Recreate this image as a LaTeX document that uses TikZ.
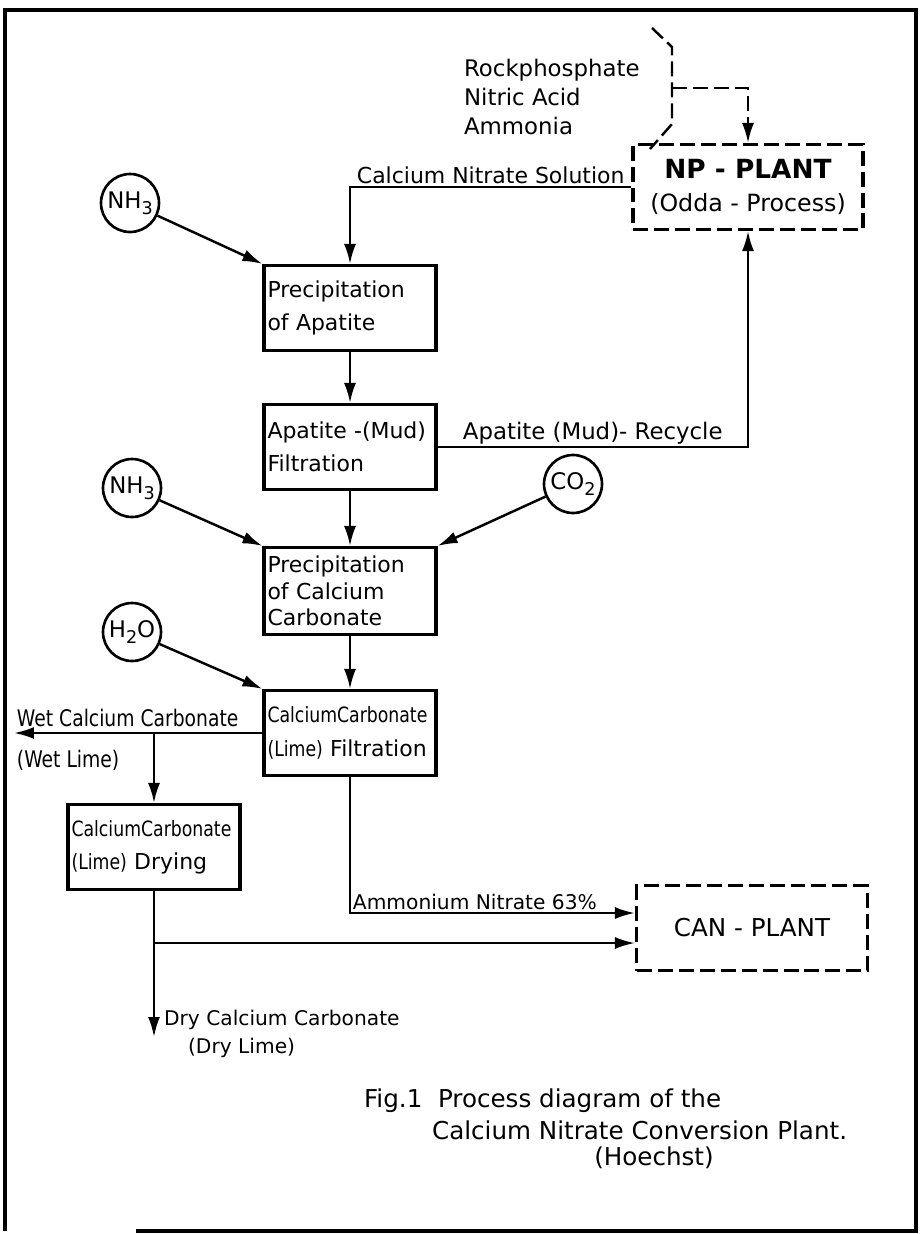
\documentclass[tikz,border=0pt]{standalone}
\usepackage{fontspec}
\setmainfont{DejaVu Sans}
\newfontfamily\narrowfont{DejaVu Sans}[FakeStretch=0.82]
\usetikzlibrary{arrows.meta}
\hyphenpenalty=10000

\begin{document}
\begin{tikzpicture}[x=0.02cm,y=-0.02cm]
    \newcommand{\narrowtxt}[1]{{\narrowfont\fontsize{12}{14}\selectfont #1}}
    \newcommand{\chemsub}[1]{\raisebox{-0.45ex}{\fontsize{10}{10}\selectfont #1}}
    \tikzstyle{flow}  = [line width=1.4pt,->,>={Latex[length=4mm,width=2.4mm]},draw=black]
    \tikzstyle{dflow} = [flow,dash pattern=on 3mm off 1.2mm]
    \tikzstyle{unitbox}=[
      draw,
      line width=1.8pt,
      minimum height=1.7cm,
      text width=3.3cm,
      inner sep=0.07cm,
      align=left,
      font=\fontsize{12.5}{15}\selectfont
    ]
    \tikzstyle{plantbox}=[
      draw,
      line width=1.8pt,
      dash pattern=on 3mm off 1.2mm,
      minimum width=4.6cm,
      minimum height=1.7cm,
      align=center
    ]
    \tikzstyle{feedcircle}=[
      circle,
      draw,
      line width=1.5pt,
      minimum size=1.16cm,
      inner sep=0pt,
      font=\fontsize{13}{15}\selectfont
    ]
    \tikzstyle{streamtext}=[inner sep=1pt,font=\fontsize{12.5}{17}\selectfont]
    \tikzstyle{smalltext}=[inner sep=1pt,font=\fontsize{11.5}{14}\selectfont]
    \tikzstyle{narrowtext}=[inner sep=1pt,font=\narrowfont\fontsize{13}{15}\selectfont]
    \tikzstyle{captext}=[inner sep=1pt,font=\fontsize{14}{16}\selectfont]

    \useasboundingbox (0,0) rectangle (920,1234);
    \draw[line width=2.4pt] (136,1231) -- (916,1231) -- (916,10) -- (5,10) -- (5,1231);

    \node[plantbox] (npplant) at (748,187) {{\bfseries\fontsize{15}{18}\selectfont NP - PLANT}\\[7pt]{\fontsize{13.5}{16}\selectfont(Odda - Process)}};
    \node[plantbox, minimum width=4.62cm] (canplant) at (752,928) {\fontsize{14}{16}\selectfont CAN - PLANT};

    \node[unitbox] (apprec) at (350,308) {Precipitation\\[4pt]of Apatite};
    \node[unitbox] (apfilt) at (350,447) {Apatite -(Mud)\\[4pt]Filtration};
    \node[unitbox, minimum height=1.74cm] (caprec) at (350,591) {Precipitation\\of Calcium\\Carbonate};
    \node[unitbox] (cafilt) at (350,733) {\narrowtxt{CalciumCarbonate}\\[4pt]\narrowtxt{(Lime)} Filtration};
    \node[unitbox] (drying) at (154,847) {\narrowtxt{CalciumCarbonate}\\[4pt]\narrowtxt{(Lime)} Drying};

    \node[feedcircle] (nh3a) at (130,203) {NH\chemsub{3}};
    \node[feedcircle] (nh3b) at (132,488) {NH\chemsub{3}};
    \node[feedcircle] (co2) at (573,484) {CO\chemsub{2}};
    \node[feedcircle] (h2o) at (132,632) {H\chemsub{2}O};

    \node[streamtext, align=left, anchor=west, font=\fontsize{13}{16.5}\selectfont] (rawin) at (462,97) {Rockphosphate\\Nitric Acid\\Ammonia};
    \draw[line width=1.4pt, dash pattern=on 3mm off 1.2mm] (652,28) -- (672,47) -- (672,124) -- (650,149);
    \coordinate (rawfeed) at (672,88);

    \coordinate (wetout) at (14,733);
    \coordinate (wetsplit) at (154,733);
    \coordinate (dryout) at (154,1037);
    \coordinate (drysplit) at (154,943);

    \draw[dflow] (rawfeed) -| (npplant.north);
    \draw[flow] (npplant.west) -| node[streamtext, pos=0.25, above] (cnsol) {Calcium Nitrate Solution} (apprec.north);
    \draw[flow] (nh3a) -- (apprec.north west);
    \draw[flow] (apprec.south) -- (apfilt.north);
    \draw[flow] (apfilt.east) -| node[streamtext, pos=0.25, above, font=\fontsize{13}{16}\selectfont] (recycle) {Apatite (Mud)- Recycle} (npplant.south);
    \draw[flow] (nh3b) -- (caprec.north west);
    \draw[flow] (co2) -- (caprec.north east);
    \draw[flow] (apfilt.south) -- (caprec.north);
    \draw[flow] (caprec.south) -- (cafilt.north);
    \draw[flow] (h2o) -- (cafilt.north west);
    \draw[flow] (cafilt.west) -- node[narrowtext, pos=1, anchor=south west, yshift=2pt] (wettext) {Wet Calcium Carbonate}
      node[narrowtext, pos=1, anchor=north west, yshift=-8pt] (wetlime) {(Wet Lime)} (wetout);
    \draw[flow] (wetsplit) -- (drying.north);
    \draw[flow] (drying.south) -- (dryout);
    \draw[flow] (drysplit) -- (drysplit -| canplant.west);
    \draw[flow] (cafilt.south) |- node[smalltext, pos=0.5, anchor=south west] (antext) {Ammonium Nitrate 63\%} ([yshift=0.3cm]canplant.west);

    \node[smalltext, anchor=west] (drytext) at (162,1020) {Dry Calcium Carbonate};
    \node[smalltext, anchor=west] (drylime) at (186,1048) {(Dry Lime)};

    \node[captext, anchor=west] (figcap) at (362,1101) {Fig.1\ \ Process diagram of the};
    \node[captext, anchor=west] (figcapb) at (430,1130) {Calcium Nitrate Conversion Plant.};
    \node[captext] (figcapc) at (654,1158) {(Hoechst)};
\end{tikzpicture}
\end{document}
